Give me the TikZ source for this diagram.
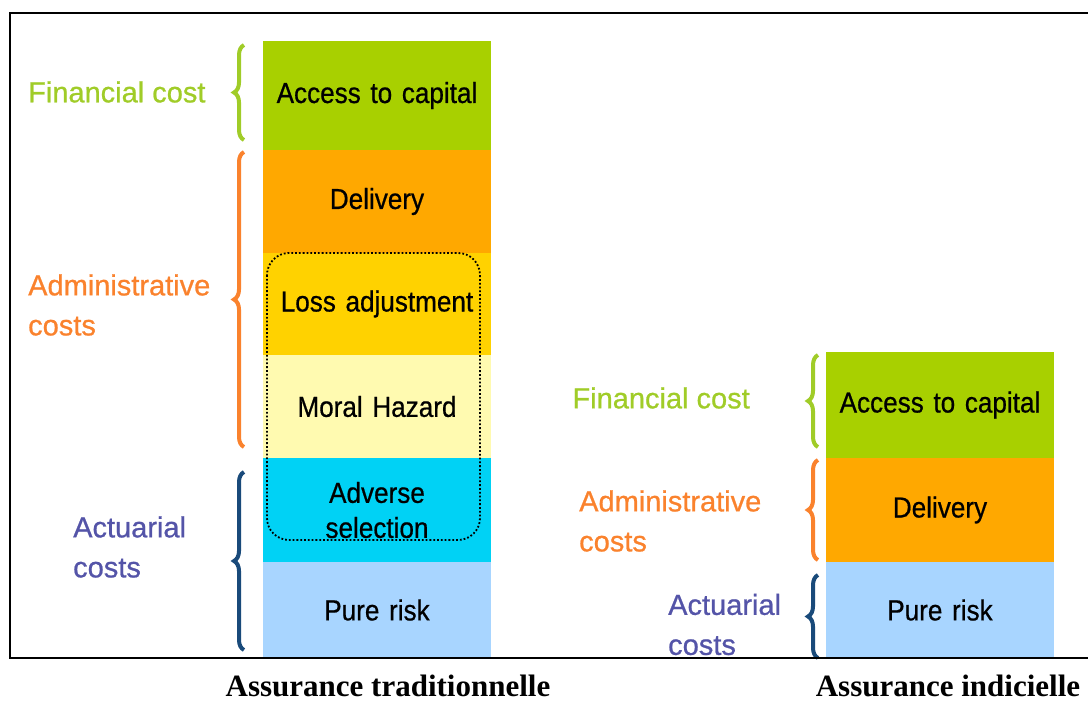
\documentclass[tikz,border=0pt]{standalone}
\usepackage{fontspec}
\setmainfont{Liberation Sans}
\newfontfamily\capfont{Liberation Serif}
\newfontfamily\cellfont{Liberation Sans}[FakeStretch=0.9, FakeBold=0.6, WordSpace=0.8]
\newfontfamily\tagfont{Liberation Sans}[FakeBold=0.8]
\usetikzlibrary{positioning,decorations.pathreplacing}
\definecolor{pGreen}{RGB}{168,208,0}
\definecolor{pOrange}{RGB}{255,168,0}
\definecolor{pGold}{RGB}{255,210,0}
\definecolor{pPale}{RGB}{255,250,176}
\definecolor{pCyan}{RGB}{0,210,245}
\definecolor{pSky}{RGB}{168,213,255}
\definecolor{pLime}{RGB}{160,204,40}
\definecolor{pCoral}{RGB}{250,130,45}
\definecolor{pIndigo}{RGB}{84,84,168}
\definecolor{pNavy}{RGB}{25,74,122}
\tikzset{
    cell/.style={rectangle, inner sep=0pt, outer sep=0pt, minimum width=228pt, text width=220pt, align=center, font=\cellfont\fontsize{29}{35}\selectfont},
    tag/.style={inner sep=0pt, align=left, font=\tagfont\fontsize{29}{40}\selectfont},
    brc/.style={decorate, decoration={brace, amplitude=10pt}, line width=4pt},
    capt/.style={inner sep=0pt, font=\capfont\bfseries\fontsize{31}{36}\selectfont}
}

\begin{document}
\begin{tikzpicture}[x=1pt,y=-1pt,node distance=0pt]
\useasboundingbox (0,0) rectangle (1088,704);
% traditional insurance
\node[cell, fill=pGreen, minimum height=109pt, anchor=north west] (capA) at (263,41) {Access to capital};
\node[cell, fill=pOrange, minimum height=103pt, below=of capA] (delA) {Delivery};
\node[cell, fill=pGold, minimum height=102pt, below=of delA] (lossA) {Loss adjustment};
\node[cell, fill=pPale, minimum height=103pt, below=of lossA] (moralA) {Moral Hazard};
\node[cell, fill=pCyan, minimum height=104pt, below=of moralA] (advA) {Adverse\\selection};
\node[cell, fill=pSky, minimum height=96pt, below=of advA] (riskA) {Pure risk};
\draw[dotted, line width=1.8pt, rounded corners=22pt] (267,253) rectangle (480,540);
\draw[brc, pLime] (244,140) -- (244,45);
\draw[brc, pCoral] (244,447) -- (244,152);
\draw[brc, pNavy] (244,650) -- (244,472);
\node[tag, text=pLime, anchor=west] (finA) at (28,92) {Financial cost};
\node[tag, text=pCoral, anchor=west] (admA) at (28,305) {Administrative\\costs};
\node[tag, text=pIndigo, anchor=west] (actA) at (73,547) {Actuarial\\costs};
% index insurance
\node[cell, fill=pGreen, minimum height=106pt, anchor=north west] (capB) at (826,352) {Access to capital};
\node[cell, fill=pOrange, minimum height=104pt, below=of capB] (delB) {Delivery};
\node[cell, fill=pSky, minimum height=96pt, below=of delB] (riskB) {Pure risk};
\draw[brc, pLime] (818,447) -- (818,355);
\draw[brc, pCoral] (818,560) -- (818,460);
\draw[brc, pNavy] (818,658) -- (818,575);
\node[tag, text=pLime, anchor=east] (finB) at (750,398) {Financial cost};
\node[tag, text=pCoral, anchor=west] (admB) at (579,521) {Administrative\\costs};
\node[tag, text=pIndigo, anchor=west] (actB) at (668,624.5) {Actuarial\\costs};
% frame and captions
\draw[line width=2.5pt] (1088,13) -- (10,13) -- (10,658) -- (1088,658);
\node[capt] (tradCap) at (388,686) {Assurance traditionnelle};
\node[capt] (indexCap) at (948,686) {Assurance indicielle};
\end{tikzpicture}
\end{document}
